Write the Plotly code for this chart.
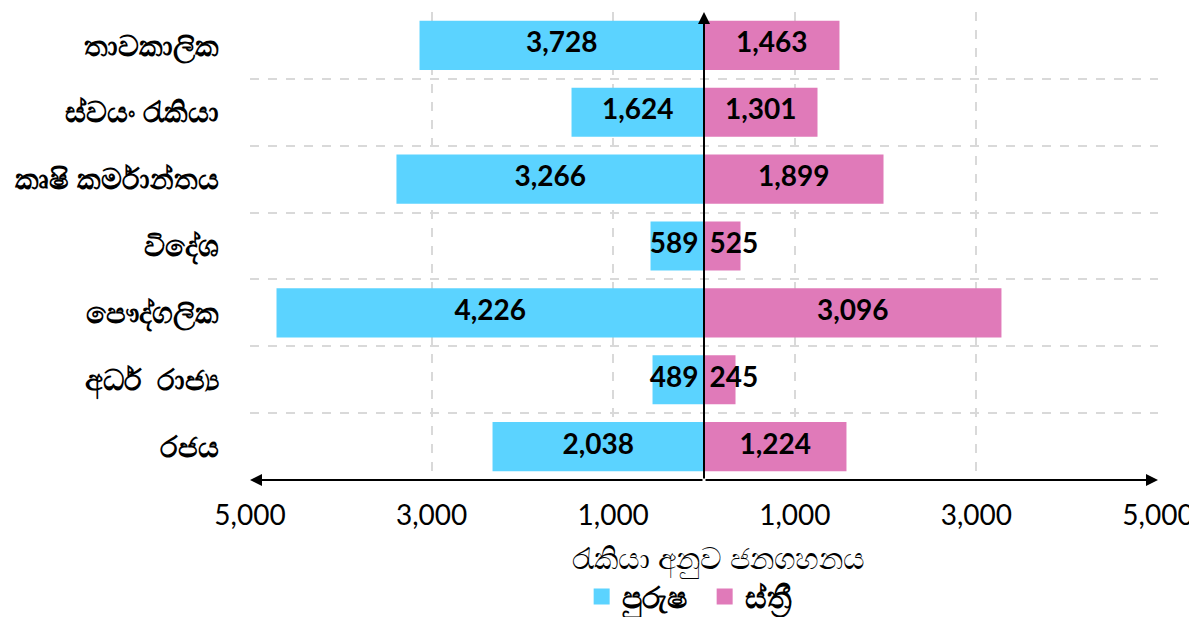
import plotly.graph_objects as go

# categories, top to bottom
categories = ["තාවකාලික", "ස්වයං රැකියා", "කෘෂි කර්මාන්තය", "විදේශ",
              "පෞද්ගලික", "අර්ධ  රාජ්‍ය", "රජය"]

# bar lengths as drawn in the picture
male_bars = [3133, 1459, 3387, 589, 4708, 567, 2329]
female_bars = [1492, 1250, 1977, 402, 3276, 347, 1569]

# labels printed on the bars
male_labels = ["3,728", "1,624", "3,266", "589", "4,226", "489", "2,038"]
female_labels = ["1,463", "1,301", "1,899", "525", "3,096", "245", "1,224"]

tick_vals = [-5000, -3000, -1000, 1000, 3000, 5000]
tick_text = ["5,000", "3,000", "1,000", "1,000", "3,000", "5,000"]

MALE_COLOR = "#5BD3FF"
FEMALE_COLOR = "#E07AB9"
NUM_FONT = "Lato"
MIN_LABEL_X = 330  # keep short-bar labels clear of the centre line

fig = go.Figure()

fig.add_trace(go.Bar(
    y=categories, x=[-v for v in male_bars], orientation="h", name="පුරුෂ",
    marker=dict(color=MALE_COLOR, line=dict(width=0)),
    hoverinfo="skip", showlegend=False,
))
fig.add_trace(go.Bar(
    y=categories, x=female_bars, orientation="h", name="ස්ත්‍රී",
    marker=dict(color=FEMALE_COLOR, line=dict(width=0)),
    hoverinfo="skip", showlegend=False,
))

# value labels centred on the bars
label_x = [-max(v / 2, MIN_LABEL_X) for v in male_bars] + \
          [max(v / 2, MIN_LABEL_X) for v in female_bars]
fig.add_trace(go.Scatter(
    x=label_x, y=categories + categories, mode="text",
    text=male_labels + female_labels, textposition="middle center",
    textfont=dict(family=NUM_FONT, size=28, color="black", weight="bold"),
    hoverinfo="skip", showlegend=False,
))

# legend entries with bigger square swatches
for name, color in [("පුරුෂ", MALE_COLOR), ("ස්ත්‍රී", FEMALE_COLOR)]:
    fig.add_trace(go.Scatter(
        x=[None], y=[None], mode="markers", name=name,
        marker=dict(symbol="square", size=18, color=color),
    ))

# axis arrows
arrow = dict(showarrow=True, arrowhead=2, arrowsize=1.2, arrowwidth=2,
             arrowcolor="black", text="", standoff=0, startstandoff=0)
fig.add_annotation(x=5000, y=0, xref="x", yref="paper", ax=0, axref="x",
                   ay=0, ayref="pixel", **arrow)
fig.add_annotation(x=-5000, y=0, xref="x", yref="paper", ax=0, axref="x",
                   ay=0, ayref="pixel", **arrow)
fig.add_annotation(x=0, y=1, xref="x", yref="paper", ax=0, axref="pixel",
                   ay=468, ayref="pixel", **arrow)

# x axis title
fig.add_annotation(text="රැකියා අනුව ජනගහනය", x=0.5, y=0, xref="paper",
                   yref="paper", xshift=14, yshift=-78, showarrow=False,
                   xanchor="center", yanchor="middle",
                   font=dict(size=30, color="black"))

fig.update_layout(
    width=1197, height=617,
    margin=dict(l=242, r=47, t=4, b=145),
    plot_bgcolor="white", paper_bgcolor="white",
    barmode="relative", bargap=0.265,
    showlegend=True,
    legend=dict(orientation="h", x=0.582, xanchor="center", xref="container",
                y=0.046, yanchor="middle", yref="container",
                font=dict(size=30, color="black", weight="bold"),
                itemwidth=30, entrywidth=78, entrywidthmode="pixels",
                traceorder="normal", bgcolor="rgba(0,0,0,0)"),
    xaxis=dict(
        range=[-5000, 5000], tickvals=tick_vals, ticktext=tick_text,
        showgrid=True, gridcolor="#D9D9D9", griddash="dash", gridwidth=1.5,
        zeroline=False, showline=False, automargin=False,
        tickfont=dict(family=NUM_FONT, size=28, color="black"),
        ticklabelstandoff=16,
    ),
    yaxis=dict(
        type="category", categoryorder="array",
        categoryarray=categories[::-1],
        tickson="boundaries", ticks="", showgrid=True,
        gridcolor="#D9D9D9", griddash="dash", gridwidth=1.5,
        showline=False, zeroline=False, automargin=False,
        tickfont=dict(size=29, color="black", weight="bold"),
        ticklabelstandoff=30,
    ),
)

fig.write_html("out.html")
